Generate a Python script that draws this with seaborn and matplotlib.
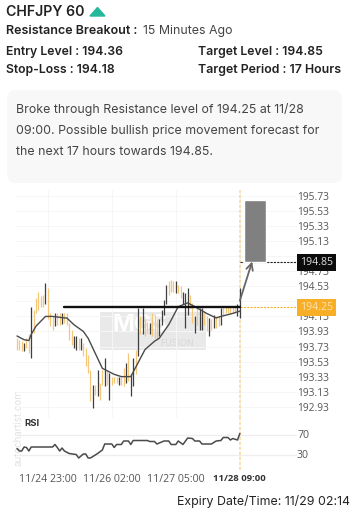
import numpy as np
import pandas as pd
import seaborn as sns
import matplotlib.pyplot as plt
from matplotlib.patches import FancyBboxPatch, Polygon

# data ------------------------------------------------------------------
highs = [193.84,193.82,193.80,193.78,193.84,193.89,194.26,194.22,194.37,194.46,194.40,194.42,
         194.58,194.51,194.17,194.13,194.17,194.17,194.17,194.18,194.17,194.17,194.04,193.95,
         193.87,193.87,193.84,193.84,193.78,193.71,193.62,193.42,193.22,193.22,193.42,193.25,
         193.42,193.58,193.40,193.38,193.33,193.33,193.33,193.33,193.33,193.44,193.51,193.64,
         193.36,193.58,193.69,194.24,194.13,194.24,194.09,194.06,194.04,194.17,194.15,194.09,
         194.09,194.22,194.35,194.55,194.60,194.62,194.60,194.60,194.55,194.53,194.46,194.44,
         194.51,194.42,194.31,194.13,194.24,194.24,194.24,194.17,194.13,194.11,194.09,194.15,
         194.13,194.13,194.24,194.26,194.26,194.26,194.26,194.26,194.26,194.29,194.51]
lows = [193.69,193.69,193.67,193.67,193.71,193.64,193.58,193.91,194.17,194.22,194.26,194.26,
        194.29,194.09,194.00,193.95,194.00,194.02,194.02,194.03,194.04,194.02,193.82,193.75,
        193.71,193.69,193.69,193.69,193.60,193.47,193.38,193.00,192.91,193.09,193.07,193.02,
        193.22,193.20,193.22,193.02,193.22,193.25,193.25,193.22,193.22,193.20,193.25,193.27,
        193.07,193.20,193.36,193.60,193.89,193.89,193.87,193.91,193.89,193.87,193.84,193.82,
        193.87,194.02,194.15,194.29,194.42,194.46,194.46,194.44,194.44,194.37,194.29,193.98,
        194.15,194.24,194.04,193.91,194.02,193.95,193.95,194.02,193.93,193.87,193.95,193.98,
        193.98,194.00,194.02,194.15,194.17,194.17,194.17,194.17,194.17,194.13,194.11]
dark_bars = [3,6,12,16,19,24,25,27,32,34,37,39,43,46,48,49,51,53,56,60,61,62,63,67,70,71,72,
             75,77,78,81,83,86,93,94]

ma_x = [0,3,5,6,8,12,15,20,21,24,28,30,33,36,41,44,48,51,54,58,60,64,68,72,75,80,84,86,91,94]
ma_y = [193.87,193.82,193.81,193.89,194.00,194.13,194.13,194.11,194.11,194.02,193.93,193.84,
        193.64,193.44,193.36,193.33,193.33,193.51,193.69,193.80,193.84,194.02,194.26,194.31,
        194.26,194.17,194.11,194.13,194.17,194.20]

rsi_x = [0,1,2,3,4,5,6,15,16,17,18,19,20,22,25,26,28,29,30,31,34,36,37,40,41,42,44,45,47,48,49,
         55,56,58,59,62,64,65,67,68,70,72,74,75,77,78,82,84,86,87,89,90,91,93,94]
rsi_y = [42,37,37,45,44,37,45,45,50,44,37,43,37,32,30,23,31,31,23,23,32,39,51,51,44,50,50,57,57,
         50,58,58,56,56,51,57,57,50,50,57,50,63,62,57,57,51,51,57,58,64,64,59,62,59,72]

price_ticks = [195.73,195.53,195.33,195.13,194.93,194.73,194.53,194.33,194.13,193.93,193.73,193.53,193.33,193.13,192.93]
price_labels = ['195.73','195.53','195.33','195.13','','194.73','194.53','','194.13','193.93','193.73','193.53','193.33','193.13','192.93']
time_ticks = [13,40,67,94]
time_labels = ['11/24 23:00','11/26 02:00','11/27 05:00','11/28 09:00']
rsi_ticks = [70,30]

resistance = 194.26
target = 194.85
entry = 194.36
box_top = 195.68

# figure ------------------------------------------------------------------
sns.set_theme(style='white')
plt.rcParams['font.family'] = ['Inter', 'DejaVu Sans']
W, H = 355, 524
fig = plt.figure(figsize=(W/100, H/100), dpi=100)

def area(x0, y0, x1, y1):
    return [x0/W, 1-y1/H, (x1-x0)/W, (y1-y0)/H]

# overlay in pixels for the text card
bg = fig.add_axes([0, 0, 1, 1])
bg.set_xlim(0, W)
bg.set_ylim(H, 0)
bg.axis('off')

txt = '#222222'
bg.text(6, 12, 'CHFJPY 60', fontsize=10.2, weight='semibold', color=txt, va='center')
bg.add_patch(Polygon([[90, 16], [97.5, 7.5], [105, 16]], color='#26b89a'))
bg.text(6, 31, 'Resistance Breakout :', fontsize=9, weight='semibold', color=txt, va='center')
bg.text(143, 31, '15 Minutes Ago', fontsize=8.9, color='#444444', va='center')
bg.text(6, 52, 'Entry Level : 194.36', fontsize=8.8, weight='semibold', color=txt, va='center')
bg.text(6, 70, 'Stop-Loss : 194.18', fontsize=8.8, weight='semibold', color=txt, va='center')
bg.text(198, 52, 'Target Level : 194.85', fontsize=8.8, weight='semibold', color=txt, va='center')
bg.text(198, 70, 'Target Period : 17 Hours', fontsize=8.9, weight='semibold', color=txt, va='center')
bg.add_patch(FancyBboxPatch((7, 90), 335, 93, boxstyle='round,pad=0,rounding_size=9',
                            fc='#f8f8f9', ec='none'))
for yy, line in zip([110, 131, 152], ['Broke through Resistance level of 194.25 at 11/28',
                                      '09:00. Possible bullish price movement forecast for',
                                      'the next 17 hours towards 194.85.']):
    bg.text(16, yy, line, fontsize=8.9, color='#444444', va='center')
bg.text(177, 502, 'Expiry Date/Time: 11/29 02:14', fontsize=8.9, color=txt, va='center')
bg.text(19, 428, 'autochartist.com', rotation=90, fontsize=7, color='#e2e2e2', ha='center', va='center')
# watermark
bg.add_patch(plt.Rectangle((100, 312), 106, 38, fc='#e9e9e9', ec='none', zorder=1))
bg.text(112, 325, 'MGS', fontsize=17, color='white', weight='bold', va='center', zorder=2)
bg.text(160, 344, 'FUSION', fontsize=6.5, color='#d8d8d8', va='center', zorder=2)

# main price panel
ax = fig.add_axes(area(16, 190, 297, 418))
ax.patch.set_alpha(0)
df = pd.DataFrame({'x': np.arange(len(highs)), 'high': highs, 'low': lows})
df['dark'] = df['x'].isin(dark_bars)
up = df[~df['dark']]
down = df[df['dark']]
ax.vlines(up['x'], up['low'], up['high'], color='#f5c778', lw=0.9, zorder=2)
ax.vlines(down['x'], down['low'], down['high'], color='#3f3f3f', lw=0.9, zorder=2)
sns.lineplot(x=ma_x, y=ma_y, ax=ax, color='#4a4a4a', lw=1.0, zorder=3, errorbar=None)
ax.plot([20, 94], [resistance, resistance], color='#111111', lw=1.7, zorder=4)
ax.plot([94, 118], [resistance, resistance], color='#f5b52e', lw=0.8, ls=(0, (2, 1)), zorder=2)
ax.plot([94, 118], [target, target], color='#222222', lw=0.8, ls=(0, (2, 1)), zorder=2)
ax.axvline(94, color='#f8dca6', lw=1.2, ls=(0, (2, 1)), zorder=1)
ax.bar([100.5], [box_top-target], bottom=[target], width=9.2, color='#808080', zorder=3)
ax.annotate('', xy=(99.2, target+0.01), xytext=(94, entry-0.02),
            arrowprops=dict(arrowstyle='->', color='#666666', lw=1.3, shrinkA=0, shrinkB=0), zorder=5)
ax.set_xlim(-0.42, 118.1)
ax.set_ylim(192.78, 195.81)
ax.set_xticks(time_ticks)
ax.set_xticklabels([])
ax.set_yticks(price_ticks)
ax.set_yticklabels(price_labels, family=['Open Sans', 'DejaVu Sans'], fontsize=7.4, color='#555555')
ax.yaxis.tick_right()
ax.tick_params(axis='both', length=0, pad=0)
ax.grid(color='#f6f6f6', lw=0.7)
ax.set_axisbelow(True)
sns.despine(ax=ax, left=True, bottom=True, right=True, top=True)
ax.text(119.3, target, '194.85', fontsize=7.6, family=['Open Sans', 'DejaVu Sans'], color='#dddddd',
        va='center', ha='left', zorder=6,
        bbox=dict(boxstyle='square,pad=0.3', fc='#0c0c0c', ec='none'))
ax.text(119.3, resistance-0.01, '194.25', fontsize=7.6, family=['Open Sans', 'DejaVu Sans'], color='#fbe2ae',
        va='center', ha='left', zorder=6,
        bbox=dict(boxstyle='square,pad=0.3', fc='#f8ae26', ec='none'))

# rsi panel
rx = fig.add_axes(area(16, 418, 297, 470))
rx.patch.set_alpha(0)
sns.lineplot(x=rsi_x, y=rsi_y, ax=rx, color='#4a4a4a', lw=1.1, zorder=3, errorbar=None)
rx.axvline(94, color='#f8dca6', lw=1.2, ls=(0, (2, 1)), zorder=1)
rx.set_xlim(-0.42, 118.1)
rx.set_ylim(-1, 103)
rx.set_xticks(time_ticks)
rx.set_xticklabels(time_labels, family=['Open Sans', 'DejaVu Sans'], fontsize=7.6, color='#555555')
rx.get_xticklabels()[-1].set_fontweight('bold')
rx.get_xticklabels()[-1].set_fontsize(6.8)
rx.get_xticklabels()[-1].set_color('#333333')
rx.set_yticks(rsi_ticks)
rx.set_yticklabels(['70', '30'], family=['Open Sans', 'DejaVu Sans'], fontsize=7.6, color='#555555')
rx.yaxis.tick_right()
rx.tick_params(axis='both', length=0, pad=0)
rx.tick_params(axis='x', pad=3)
rx.grid(axis='y', color='#eeeeee', lw=0.9)
rx.set_axisbelow(True)
rx.text(3.2, 92, 'RSI', fontsize=6.8, weight='bold', color='#333333', va='center')
sns.despine(ax=rx, left=True, bottom=True, right=True, top=True)

fig.savefig('out.png', dpi=100)
